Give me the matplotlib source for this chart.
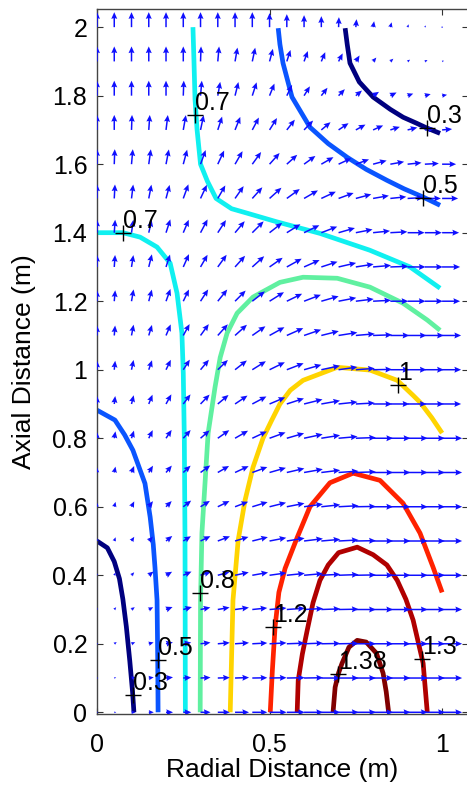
import matplotlib
matplotlib.use('Agg')
import numpy as np
import matplotlib.pyplot as plt

plt.rcParams['font.family'] = ['Liberation Sans', 'DejaVu Sans']

# quiver grid
RAD_STEP = 0.05
AX_STEP = 0.1
N_RAD = 21
N_AX = 21

# flow direction (deg, 0 = +r, 90 = +z), rows from z = 2.0 down to z = 0.0
flow_angle = [
    [90, 90, 90, 90, 90, 90, 90, 90, 90, 90, 90, 90, 90, 90, 88, 85, 80, 75, 70, 60, 50],
    [90, 90, 90, 90, 90, 90, 88, 85, 80, 78, 75, 72, 70, 67, 63, 58, 50, 42, 35, 28, 20],
    [90, 90, 90, 90, 90, 88, 85, 80, 76, 72, 68, 64, 58, 52, 46, 40, 33, 27, 20, 15, 10],
    [90, 90, 88, 86, 83, 80, 78, 72, 68, 62, 58, 52, 46, 40, 34, 29, 24, 18, 14, 9, 5],
    [90, 88, 85, 82, 79, 75, 70, 65, 60, 54, 48, 42, 36, 30, 25, 20, 15, 10, 6, 3, 0],
    [90, 87, 83, 79, 75, 70, 65, 60, 55, 48, 42, 36, 30, 25, 20, 15, 10, 6, 3, 0, 0],
    [90, 86, 82, 77, 72, 67, 62, 57, 50, 45, 38, 32, 26, 21, 16, 11, 6, 3, 0, 0, 0],
    [90, 86, 81, 76, 72, 66, 60, 54, 48, 42, 35, 29, 24, 18, 13, 9, 5, 2, 0, 0, 0],
    [90, 85, 80, 75, 70, 64, 57, 51, 45, 38, 32, 26, 21, 16, 11, 7, 3, 0, 0, 0, 0],
    [90, 85, 79, 73, 67, 61, 54, 48, 42, 35, 29, 24, 19, 14, 9, 5, 2, 0, 0, 0, 0],
    [90, 84, 78, 71, 64, 57, 50, 44, 38, 32, 26, 21, 16, 12, 8, 4, 1, 0, 0, 0, 0],
    [90, 83, 76, 68, 61, 53, 46, 40, 34, 28, 23, 18, 14, 10, 6, 3, 0, 0, 0, 0, 0],
    [90, 80, 72, 64, 56, 48, 41, 35, 30, 25, 20, 16, 12, 9, 5, 2, 0, 0, 0, 0, 0],
    [90, 78, 68, 58, 50, 43, 36, 30, 25, 20, 16, 13, 10, 7, 4, 2, 0, 0, 0, 0, 0],
    [90, 75, 63, 53, 45, 38, 32, 26, 21, 17, 14, 11, 8, 6, 3, 1, 0, 0, 0, 0, 0],
    [90, 70, 57, 47, 39, 32, 26, 21, 17, 14, 11, 9, 7, 5, 3, 1, 0, 0, 0, 0, 0],
    [90, 62, 48, 38, 30, 24, 19, 15, 12, 10, 8, 6, 5, 3, 2, 1, 0, 0, 0, 0, 0],
    [90, 50, 36, 27, 21, 16, 12, 10, 8, 6, 5, 4, 3, 2, 1, 0, 0, 0, 0, 0, 0],
    [80, 35, 23, 16, 12, 9, 7, 5, 4, 3, 3, 2, 2, 1, 1, 0, 0, 0, 0, 0, 0],
    [60, 18, 11, 8, 6, 4, 3, 2, 2, 1, 1, 1, 1, 0, 0, 0, 0, 0, 0, 0, 0],
    [0, 0, 0, 0, 0, 0, 0, 0, 0, 0, 0, 0, 0, 0, 0, 0, 0, 0, 0, 0, 0],
]

# flow speed, same layout
flow_speed = [
    [15, 15, 15, 15, 15, 15, 15, 15, 15, 15, 14, 13, 12, 11, 10, 8, 6, 5, 3, 2, 1],
    [15, 15, 15, 15, 15, 15, 15, 15, 14, 14, 13, 12, 11, 10, 9, 7, 5, 4, 3, 3, 2],
    [15, 15, 15, 15, 15, 15, 15, 14, 14, 14, 13, 12, 11, 10, 9, 8, 7, 7, 6, 6, 5],
    [15, 15, 15, 15, 15, 15, 15, 14, 14, 14, 14, 13, 13, 12, 12, 11, 11, 10, 10, 10, 10],
    [15, 15, 15, 15, 15, 15, 15, 15, 15, 15, 15, 14, 14, 14, 14, 14, 14, 14, 14, 14, 14],
    [14, 14, 14, 14, 14, 15, 15, 15, 15, 15, 16, 16, 16, 16, 16, 16, 16, 16, 16, 16, 16],
    [13, 13, 13, 13, 14, 14, 15, 15, 15, 16, 16, 16, 17, 17, 17, 17, 17, 17, 17, 17, 17],
    [12, 12, 12, 13, 13, 14, 14, 15, 15, 16, 16, 17, 17, 17, 18, 18, 18, 18, 18, 18, 18],
    [11, 11, 12, 12, 13, 13, 14, 15, 15, 16, 17, 17, 18, 18, 18, 18, 18, 18, 18, 18, 18],
    [10, 10, 11, 11, 12, 13, 14, 15, 16, 16, 17, 18, 18, 18, 19, 19, 19, 19, 19, 19, 19],
    [9, 9, 10, 10, 11, 12, 13, 14, 15, 16, 17, 18, 18, 19, 19, 19, 19, 19, 19, 19, 19],
    [8, 8, 9, 10, 11, 12, 13, 14, 15, 16, 17, 18, 19, 19, 19, 19, 19, 19, 19, 19, 19],
    [6, 7, 8, 9, 10, 11, 12, 14, 15, 16, 17, 18, 19, 19, 19, 20, 20, 20, 20, 20, 20],
    [5, 6, 7, 8, 9, 10, 12, 13, 15, 16, 17, 18, 19, 19, 20, 20, 20, 20, 20, 20, 20],
    [4, 5, 6, 7, 8, 10, 11, 13, 14, 16, 17, 18, 19, 19, 20, 20, 20, 20, 20, 20, 20],
    [3, 4, 5, 6, 8, 9, 11, 13, 14, 16, 17, 18, 19, 19, 20, 20, 20, 20, 20, 20, 20],
    [2, 3, 4, 6, 7, 9, 11, 12, 14, 16, 17, 18, 19, 19, 20, 20, 20, 20, 20, 20, 20],
    [2, 3, 4, 5, 7, 9, 10, 12, 14, 15, 17, 18, 19, 19, 20, 20, 20, 20, 20, 20, 20],
    [1, 3, 4, 5, 7, 8, 10, 12, 14, 15, 17, 18, 19, 19, 20, 20, 20, 20, 20, 20, 20],
    [1, 2, 4, 5, 7, 8, 10, 12, 14, 15, 17, 18, 19, 19, 20, 20, 20, 20, 20, 20, 20],
    [1, 2, 4, 5, 7, 8, 10, 12, 14, 15, 17, 18, 19, 19, 20, 20, 20, 20, 20, 20, 20],
]

# contour levels and traced isolines (r, z)
levels = [0.3, 0.5, 0.7, 0.8, 1, 1.2, 1.3, 1.38]
level_colors = ['#00007f', '#0a55ff', '#10f0f0', '#60f0a0', '#ffd400', '#ff2200', '#b00000', '#800000']

iso_lines = {
    0.3: [
        ([0, 0.03, 0.05, 0.065, 0.075, 0.085, 0.095, 0.103, 0.107],
         [0.50, 0.48, 0.44, 0.39, 0.33, 0.25, 0.15, 0.06, 0.0]),
        ([0.719, 0.725, 0.733, 0.76, 0.80, 0.85, 0.887, 0.925, 0.957, 0.994],
         [1.997, 1.95, 1.895, 1.84, 1.796, 1.76, 1.737, 1.72, 1.705, 1.69]),
    ],
    0.5: [
        ([0, 0.052, 0.08, 0.104, 0.122, 0.139, 0.154, 0.163, 0.168, 0.174, 0.176, 0.177],
         [0.882, 0.853, 0.81, 0.765, 0.715, 0.668, 0.57, 0.49, 0.423, 0.327, 0.15, 0.0]),
        ([0.525, 0.53, 0.539, 0.565, 0.617, 0.67, 0.725, 0.78, 0.84, 0.89, 0.945, 0.994],
         [1.997, 1.95, 1.895, 1.796, 1.708, 1.66, 1.62, 1.585, 1.553, 1.528, 1.504, 1.48]),
    ],
    0.7: [
        ([0, 0.075, 0.125, 0.174, 0.212, 0.232, 0.246, 0.25, 0.253, 0.255, 0.256],
         [1.40, 1.40, 1.387, 1.358, 1.311, 1.223, 1.107, 0.99, 0.80, 0.5, 0]),
        ([0.278, 0.281, 0.284, 0.29, 0.30, 0.32, 0.345, 0.39, 0.435, 0.52, 0.646, 0.79, 0.907, 0.994],
         [2.0, 1.9, 1.79, 1.70, 1.60, 1.55, 1.50, 1.47, 1.457, 1.432, 1.398, 1.349, 1.30, 1.238]),
    ],
    0.8: [
        ([0.994, 0.957, 0.887, 0.791, 0.696, 0.597, 0.53, 0.452, 0.406, 0.377, 0.357, 0.342,
          0.322, 0.313, 0.304, 0.300, 0.299],
         [1.115, 1.145, 1.194, 1.241, 1.267, 1.27, 1.255, 1.212, 1.165, 1.107, 1.036, 0.949,
          0.815, 0.669, 0.523, 0.327, 0]),
    ],
    1: [
        ([0.386, 0.394, 0.409, 0.429, 0.452, 0.481, 0.505, 0.53, 0.56, 0.597, 0.696, 0.791,
          0.87, 0.916, 0.936, 0.97, 1.0],
         [0, 0.327, 0.502, 0.619, 0.715, 0.80, 0.85, 0.90, 0.94, 0.969, 1.007, 0.999,
          0.969, 0.925, 0.905, 0.86, 0.815]),
    ],
    1.2: [
        ([0.502, 0.508, 0.516, 0.527, 0.545, 0.58, 0.617, 0.675, 0.742, 0.82, 0.887, 0.936, 0.974, 1.0],
         [0, 0.12, 0.25, 0.35, 0.42, 0.51, 0.60, 0.67, 0.698, 0.677, 0.61, 0.523, 0.423, 0.35]),
    ],
    1.3: [
        ([0.58, 0.583, 0.595, 0.609, 0.626, 0.646, 0.67, 0.70, 0.754, 0.80, 0.84, 0.87, 0.895,
          0.916, 0.945, 0.957],
         [0, 0.093, 0.17, 0.239, 0.32, 0.385, 0.43, 0.466, 0.482, 0.46, 0.43, 0.385, 0.33,
          0.269, 0.143, 0]),
    ],
    1.38: [
        ([0.684, 0.69, 0.70, 0.71, 0.73, 0.754, 0.78, 0.81, 0.829, 0.838, 0.845],
         [0, 0.073, 0.115, 0.143, 0.19, 0.21, 0.205, 0.172, 0.114, 0.06, 0]),
    ],
}

# inline labels: (level, r, z)
iso_labels = [
    (0.3, 0.104, 0.05), (0.3, 0.957, 1.705),
    (0.5, 0.177, 0.152), (0.5, 0.945, 1.50),
    (0.7, 0.075, 1.40), (0.7, 0.284, 1.743),
    (0.8, 0.299, 0.347), (1, 0.872, 0.955),
    (1.2, 0.51, 0.248), (1.3, 0.942, 0.155),
    (1.38, 0.699, 0.112),
]

yticks = [0, 0.2, 0.4, 0.6, 0.8, 1, 1.2, 1.4, 1.6, 1.8, 2]
ytick_labels = ['0', '0.2', '0.4', '0.6', '0.8', '1', '1.2', '1.4', '1.6', '1.8', '2']
xticks = [0, 0.5, 1]
xtick_labels = ['0', '0.5', '1']

FS = 18
W, H, DPI = 467, 789, 100


def fmt_level(v):
    return ('%g' % v)


def draw():
    fig = plt.figure(figsize=(W / DPI, H / DPI), dpi=DPI)
    ax = fig.add_axes([97 / W, 1 - 714 / H, 371 / W, 705 / H])

    r = np.arange(N_RAD) * RAD_STEP
    z = np.arange(N_AX) * AX_STEP
    R, Z = np.meshgrid(r, z[::-1])
    ang = np.radians(np.array(flow_angle, dtype=float))
    spd = np.array(flow_speed, dtype=float)
    U = spd * np.cos(ang)
    V = spd * np.sin(ang)

    for lev, col in zip(levels, level_colors):
        for xs, ys in iso_lines[lev]:
            ax.plot(xs, ys, color=col, lw=3.4, solid_capstyle='butt', zorder=2)

    ax.quiver(R, Z, U, V, color='#0f0fff', units='dots', width=1.5, angles='uv',
              scale_units='dots', scale=1, headwidth=4, headlength=4.5,
              headaxislength=4, pivot='tail', zorder=3)

    for lev, xr, zr in iso_labels:
        ax.plot(xr, zr, '+', color='black', ms=11, mew=1.0, zorder=5)
        ax.text(xr, zr, fmt_level(lev), ha='left', va='bottom', fontsize=FS,
                color='black', zorder=6)

    ax.set_xlim(0, 1.075)
    ax.set_ylim(-0.005, 2.053)
    ax.set_xticks(xticks)
    ax.set_xticklabels(xtick_labels)
    ax.set_yticks(yticks)
    ax.set_yticklabels(ytick_labels)
    ax.tick_params(direction='in', length=4, width=0.8, top=True, right=True,
                   labelsize=FS, color='#333333')
    ax.tick_params(axis='x', pad=14)
    ax.tick_params(axis='y', pad=7)
    for s in ax.spines.values():
        s.set_color('#444444')
        s.set_linewidth(1.0)

    ax.set_xlabel('Radial Distance (m)', fontsize=19)
    ax.set_ylabel('Axial Distance (m)', fontsize=19)
    ax.xaxis.set_label_coords(0.5, -0.063)
    ax.yaxis.set_label_coords(-0.165, 0.5)

    fig.savefig('out.png', dpi=DPI)


if __name__ == '__main__':
    draw()
